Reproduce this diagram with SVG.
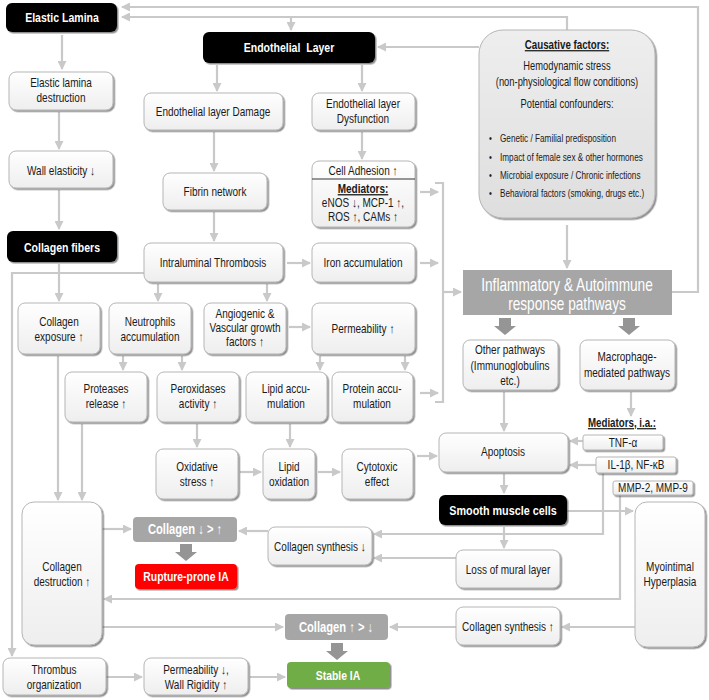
<svg xmlns="http://www.w3.org/2000/svg" width="709" height="700" viewBox="0 0 709 700">
<defs>
<linearGradient id="g" x1="0" y1="0" x2="0" y2="1"><stop offset="0" stop-color="#ffffff"/><stop offset="1" stop-color="#eeeeee"/></linearGradient>
<linearGradient id="gc" x1="0" y1="0" x2="0" y2="1"><stop offset="0" stop-color="#eeeeee"/><stop offset="1" stop-color="#dedede"/></linearGradient>
<filter id="sh" x="-10%" y="-10%" width="130%" height="130%"><feDropShadow dx="1.5" dy="1.5" stdDeviation="0.7" flood-color="#444" flood-opacity="0.6"/></filter>
<marker id="a" markerUnits="userSpaceOnUse" markerWidth="9" markerHeight="9" refX="8" refY="4.5" orient="auto"><path d="M0,0 L9,4.5 L0,9 z" fill="#c9c9c9"/></marker>
<style>
.n{fill:url(#g);stroke:#b5b5b5;stroke-width:1;filter:url(#sh)}
.k{fill:#000;filter:url(#sh)}
.t{font-family:"Liberation Sans",Arial,sans-serif;font-size:13px;fill:#1a1a1a;text-anchor:middle}
.s{font-size:10.5px;text-anchor:start}
.w{font-family:"Liberation Sans",Arial,sans-serif;font-weight:bold;font-size:13.5px;fill:#fff;text-anchor:middle}
.u{font-weight:bold;text-decoration:underline}
.c{fill:none;stroke:#c9c9c9;stroke-width:2.2;marker-end:url(#a)}
.p{fill:none;stroke:#c9c9c9;stroke-width:2.2}
.ba{fill:#959595}
</style>
</defs>

<g id="connectors">
<path class="c" d="M672,292 H698 V7 H122"/>
<path class="c" d="M567,30 V17 H122"/>
<path class="c" d="M291,17 V30"/>
<path class="c" d="M479,47 H378"/>
<path class="c" d="M62,35 V69"/>
<path class="c" d="M59,112 V149"/>
<path class="c" d="M59,190 V229"/>
<path class="c" d="M217,65 V91"/>
<path class="c" d="M362,65 V91"/>
<path class="c" d="M214,132 V171"/>
<path class="c" d="M362,132 V159"/>
<path class="c" d="M214,212 V241"/>
<path class="c" d="M59,264 V301"/>
<path class="c" d="M158,284 V301"/>
<path class="c" d="M144,273 H12 V656"/>
<path class="c" d="M267,284 V301"/>
<path class="c" d="M287,263 H310"/>
<path class="c" d="M289,327 H310"/>
<path class="c" d="M420,192 H438"/>
<path class="c" d="M420,263 H438"/>
<path class="c" d="M420,393 H438"/>
<path class="p" d="M435,183 H443 V402 H435"/>
<path class="c" d="M443,292 H461"/>
<path class="c" d="M567,225 V268"/>
<path class="c" d="M320,356 V370"/>
<path class="c" d="M405,356 V370"/>
<path class="c" d="M123,356 V370"/>
<path class="c" d="M182,356 V370"/>
<path class="c" d="M58,356 V500"/>
<path class="c" d="M82,424 V500"/>
<path class="c" d="M197,424 V447"/>
<path class="c" d="M290,424 V447"/>
<path class="c" d="M240,472 H261"/>
<path class="c" d="M318,472 H340"/>
<path class="c" d="M417,456 H437"/>
<path class="c" d="M504,392 V431"/>
<path class="c" d="M631,392 V416"/>
<path class="c" d="M583,441 H570"/>
<path class="c" d="M596,465 H570"/>
<path class="c" d="M504,474 V493"/>
<path class="c" d="M567,511 H633"/>
<path class="c" d="M504,527 V548"/>
<path class="c" d="M603,473 V534 H374"/>
<path class="c" d="M620,495 V599 H104"/>
<path class="c" d="M456,558 H374"/>
<path class="c" d="M268,531 H239"/>
<path class="c" d="M102,529 H131"/>
<path class="c" d="M102,627 H283"/>
<path class="c" d="M456,627 H390"/>
<path class="c" d="M635,627 H562"/>
<path class="c" d="M106,677 H142"/>
<path class="c" d="M250,677 H285"/>
<path class="ba" d="M499,318 H511 V326 H516 L505,335 L494,326 H499 z"/>
<path class="ba" d="M623,318 H635 V326 H640 L629,335 L618,326 H623 z"/>
<path class="ba" d="M180,544 H192 V552 H197 L186,561 L175,552 H180 z"/>
<path class="ba" d="M331,643 H343 V651 H348 L337,660 L326,651 H331 z"/>
</g>

<g id="elastic-lamina"><rect class="k" x="6" y="3" width="111" height="29" rx="6"/><g transform="translate(62 0) scale(.78 1)"><text class="w" y="22">Elastic Lamina</text></g></g>
<g id="endothelial-layer"><rect class="k" x="203" y="32" width="172" height="31" rx="6"/><g transform="translate(289 0) scale(.78 1)"><text class="w" y="52" xml:space="preserve">Endothelial  Layer</text></g></g>

<g id="causative">
<rect x="479" y="30" width="176" height="188" rx="24" fill="url(#gc)" stroke="#b5b5b5" filter="url(#sh)"/>
<g transform="translate(567 0) scale(.78 1)">
<text class="t u" y="49" style="font-size:12.5px">Causative factors:</text>
<text class="t" y="70" style="font-size:12px">Hemodynamic stress</text>
<text class="t" y="86" style="font-size:12px">(non-physiological flow conditions)</text>
<text class="t" y="108" style="font-size:12px">Potential confounders:</text>
</g>
<g transform="translate(500 0) scale(.78 1)">
<text class="t s" x="-14" y="142">•</text><text class="t s" y="142">Genetic / Familial predisposition</text>
<text class="t s" x="-14" y="161">•</text><text class="t s" y="161">Impact of female sex &amp; other hormones</text>
<text class="t s" x="-14" y="179">•</text><text class="t s" y="179">Microbial exposure / Chronic infections</text>
<text class="t s" x="-14" y="197">•</text><text class="t s" y="197">Behavioral factors (smoking, drugs etc.)</text>
</g>
</g>

<g id="elastic-destruction"><rect class="n" x="9" y="72" width="104" height="38" rx="7"/><g transform="translate(61 0) scale(.77 1)"><text class="t" y="87">Elastic lamina</text><text class="t" y="102">destruction</text></g></g>
<g id="wall-elasticity"><rect class="n" x="9" y="151" width="104" height="37" rx="7"/><g transform="translate(61 0) scale(.77 1)"><text class="t" y="175">Wall elasticity ↓</text></g></g>
<g id="collagen-fibers"><rect class="k" x="7" y="231" width="110" height="31" rx="6"/><g transform="translate(62 0) scale(.78 1)"><text class="w" y="252">Collagen fibers</text></g></g>
<g id="endo-damage"><rect class="n" x="144" y="93" width="139" height="37" rx="7"/><g transform="translate(213 0) scale(.77 1)"><text class="t" y="116">Endothelial layer Damage</text></g></g>
<g id="endo-dysfunction"><rect class="n" x="312" y="93" width="103" height="37" rx="7"/><g transform="translate(363 0) scale(.77 1)"><text class="t" y="108">Endothelial layer</text><text class="t" y="123">Dysfunction</text></g></g>
<g id="fibrin"><rect class="n" x="163" y="173" width="104" height="37" rx="7"/><g transform="translate(215 0) scale(.77 1)"><text class="t" y="196">Fibrin network</text></g></g>
<g id="cell-adhesion"><rect class="n" x="312" y="161" width="103" height="66" rx="7"/><line x1="312" y1="179" x2="415" y2="179" stroke="#333" stroke-width="1"/>
<g transform="translate(363 0) scale(.77 1)"><text class="t" y="175">Cell Adhesion ↑</text><text class="t u" y="193">Mediators:</text><text class="t" y="207">eNOS ↓, MCP-1 ↑,</text><text class="t" y="221">ROS ↑, CAMs ↑</text></g></g>
<g id="intraluminal"><rect class="n" x="144" y="243" width="139" height="39" rx="7"/><g transform="translate(213 0) scale(.77 1)"><text class="t" y="267">Intraluminal Thrombosis</text></g></g>
<g id="iron"><rect class="n" x="312" y="243" width="103" height="39" rx="7"/><g transform="translate(363 0) scale(.77 1)"><text class="t" y="267">Iron accumulation</text></g></g>
<g id="collagen-exposure"><rect class="n" x="18" y="303" width="82" height="51" rx="7"/><g transform="translate(59 0) scale(.77 1)"><text class="t" y="326">Collagen</text><text class="t" y="341">exposure ↑</text></g></g>
<g id="neutrophils"><rect class="n" x="109" y="303" width="82" height="51" rx="7"/><g transform="translate(150 0) scale(.77 1)"><text class="t" y="326">Neutrophils</text><text class="t" y="341">accumulation</text></g></g>
<g id="angiogenic"><rect class="n" x="204" y="303" width="82" height="51" rx="7"/><g transform="translate(245 0) scale(.77 1)"><text class="t" y="318">Angiogenic &amp;</text><text class="t" y="332">Vascular growth</text><text class="t" y="346">factors ↑</text></g></g>
<g id="permeability-up"><rect class="n" x="312" y="303" width="103" height="51" rx="7"/><g transform="translate(363 0) scale(.77 1)"><text class="t" y="333">Permeability ↑</text></g></g>
<g id="inflammatory"><rect x="463" y="270" width="209" height="45" fill="#a6a6a6"/><g transform="translate(567 0) scale(.76 1)"><text class="t" y="291" style="font-size:18px;fill:#fff">Inflammatory &amp; Autoimmune</text><text class="t" y="310" style="font-size:18px;fill:#fff">response pathways</text></g></g>
<g id="other-pathways"><rect class="n" x="463" y="340" width="95" height="50" rx="7"/><g transform="translate(510 0) scale(.77 1)"><text class="t" y="354">Other pathways</text><text class="t" y="370">(Immunoglobulins</text><text class="t" y="385">etc.)</text></g></g>
<g id="macrophage"><rect class="n" x="580" y="340" width="95" height="50" rx="7"/><g transform="translate(627 0) scale(.77 1)"><text class="t" y="361">Macrophage-</text><text class="t" y="377">mediated pathways</text></g></g>
<g id="proteases"><rect class="n" x="65" y="372" width="82" height="50" rx="7"/><g transform="translate(106 0) scale(.77 1)"><text class="t" y="393">Proteases</text><text class="t" y="408">release ↑</text></g></g>
<g id="peroxidases"><rect class="n" x="157" y="372" width="82" height="50" rx="7"/><g transform="translate(198 0) scale(.77 1)"><text class="t" y="393">Peroxidases</text><text class="t" y="408">activity ↑</text></g></g>
<g id="lipid-accu"><rect class="n" x="246" y="372" width="81" height="50" rx="7"/><g transform="translate(286 0) scale(.77 1)"><text class="t" y="393">Lipid accu-</text><text class="t" y="408">mulation</text></g></g>
<g id="protein-accu"><rect class="n" x="332" y="372" width="81" height="50" rx="7"/><g transform="translate(372 0) scale(.77 1)"><text class="t" y="393">Protein accu-</text><text class="t" y="408">mulation</text></g></g>
<g id="oxidative"><rect class="n" x="156" y="449" width="82" height="50" rx="7"/><g transform="translate(197 0) scale(.77 1)"><text class="t" y="471">Oxidative</text><text class="t" y="486">stress ↑</text></g></g>
<g id="lipid-oxidation"><rect class="n" x="263" y="449" width="52" height="50" rx="7"/><g transform="translate(289 0) scale(.77 1)"><text class="t" y="471">Lipid</text><text class="t" y="486">oxidation</text></g></g>
<g id="cytotoxic"><rect class="n" x="342" y="449" width="71" height="50" rx="7"/><g transform="translate(377 0) scale(.77 1)"><text class="t" y="471">Cytotoxic</text><text class="t" y="486">effect</text></g></g>
<g id="apoptosis"><rect class="n" x="439" y="433" width="129" height="39" rx="7"/><g transform="translate(503 0) scale(.77 1)"><text class="t" y="456">Apoptosis</text></g></g>
<g id="mediators-ia"><g transform="translate(622 0) scale(.78 1)"><text class="t u" y="427" style="font-size:12.5px">Mediators, i.a.:</text></g></g>
<g id="tnf"><rect class="n" x="583" y="435" width="80" height="15" rx="2"/><g transform="translate(623 0) scale(.8 1)"><text class="t" y="447" style="font-size:12.5px">TNF-α</text></g></g>
<g id="il1"><rect class="n" x="596" y="457" width="80" height="16" rx="2"/><g transform="translate(636 0) scale(.8 1)"><text class="t" y="469" style="font-size:12.5px">IL-1β, NF-κB</text></g></g>
<g id="mmp"><rect class="n" x="613" y="481" width="80" height="14" rx="2"/><g transform="translate(653 0) scale(.8 1)"><text class="t" y="492" style="font-size:12.5px">MMP-2, MMP-9</text></g></g>
<g id="smooth-muscle"><rect class="k" x="439" y="495" width="128" height="30" rx="6"/><g transform="translate(503 0) scale(.8 1)"><text class="w" y="515">Smooth muscle cells</text></g></g>
<g id="myointimal"><rect class="n" x="635" y="502" width="70" height="145" rx="12"/><g transform="translate(670 0) scale(.77 1)"><text class="t" y="571">Myointimal</text><text class="t" y="586">Hyperplasia</text></g></g>
<g id="collagen-destruction"><rect class="n" x="22" y="502" width="80" height="143" rx="12"/><g transform="translate(62 0) scale(.77 1)"><text class="t" y="571">Collagen</text><text class="t" y="586">destruction ↑</text></g></g>
<g id="collagen-down"><rect x="133" y="517" width="104" height="25" rx="4" fill="#a6a6a6"/><g transform="translate(185 0) scale(.8 1)"><text class="w" y="534" style="font-size:14px">Collagen ↓ &gt; ↑</text></g></g>
<g id="rupture"><rect x="135" y="564" width="102" height="25" rx="4" fill="#ff0000" filter="url(#sh)"/><g transform="translate(186 0) scale(.8 1)"><text class="w" y="581" style="font-size:13px">Rupture-prone IA</text></g></g>
<g id="synthesis-down"><rect class="n" x="268" y="527" width="104" height="38" rx="7"/><g transform="translate(320 0) scale(.77 1)"><text class="t" y="551">Collagen synthesis ↓</text></g></g>
<g id="loss-mural"><rect class="n" x="456" y="550" width="104" height="38" rx="7"/><g transform="translate(508 0) scale(.77 1)"><text class="t" y="574">Loss of mural layer</text></g></g>
<g id="synthesis-up"><rect class="n" x="456" y="607" width="104" height="38" rx="7"/><g transform="translate(508 0) scale(.77 1)"><text class="t" y="631">Collagen synthesis ↑</text></g></g>
<g id="collagen-up"><rect x="285" y="614" width="103" height="26" rx="4" fill="#a6a6a6"/><g transform="translate(336 0) scale(.8 1)"><text class="w" y="632" style="font-size:14px">Collagen ↑ &gt; ↓</text></g></g>
<g id="stable"><rect x="287" y="662" width="103" height="26" rx="4" fill="#70ad47" filter="url(#sh)"/><g transform="translate(338 0) scale(.8 1)"><text class="w" y="680" style="font-size:13px">Stable IA</text></g></g>
<g id="thrombus-org"><rect class="n" x="3" y="658" width="103" height="37" rx="7"/><g transform="translate(54 0) scale(.77 1)"><text class="t" y="674">Thrombus</text><text class="t" y="689">organization</text></g></g>
<g id="permeability-down"><rect class="n" x="144" y="658" width="104" height="37" rx="7"/><g transform="translate(196 0) scale(.77 1)"><text class="t" y="674">Permeability ↓,</text><text class="t" y="689">Wall Rigidity ↑</text></g></g>
</svg>
